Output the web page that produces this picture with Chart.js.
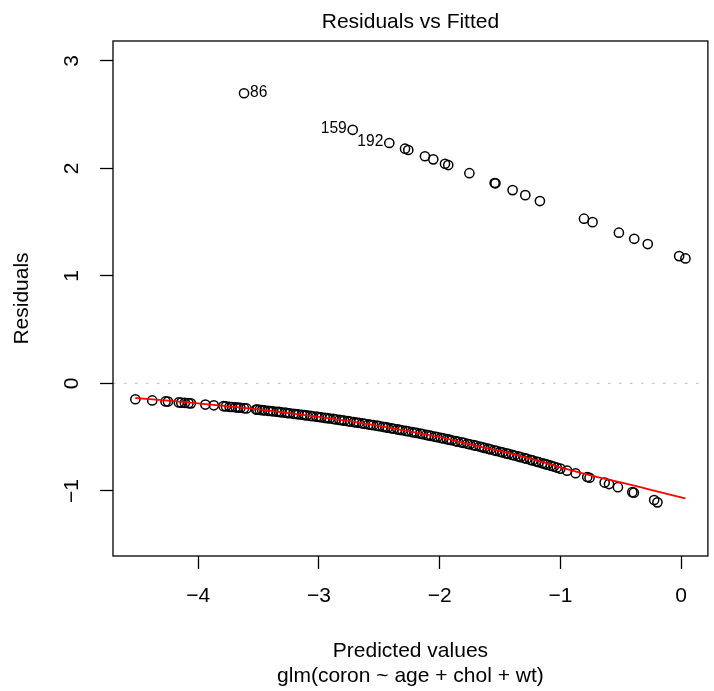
<!DOCTYPE html>
<html>
<head>
<meta charset="utf-8">
<script src="https://cdn.jsdelivr.net/npm/chart.js@4"></script>
<style>
  body { margin: 0; background: #fff; }
  canvas { display: block; }
</style>
</head>
<body>
<canvas id="chart" width="714" height="691"></canvas>
<script>
// fitted values (linear predictor) and deviance residuals
// first the y = 1 band (top), then the y = 0 band (bottom)
const fitted = [
  -3.62, -2.72, -2.417, -2.287, -2.26, -2.122, -2.053, -1.956, -1.929, -1.754,
  -1.545, -1.538, -1.396, -1.291, -1.17, -0.805, -0.734, -0.516, -0.389, -0.277,
  -0.017, 0.035,
  -4.52, -4.38, -4.27, -4.25, -4.16, -4.14, -4.11, -4.08, -4.06, -3.94,
  -3.87, -3.79, -3.77, -3.74, -3.72, -3.69, -3.67, -3.65, -3.62, -3.6,
  -3.52, -3.51, -3.49, -3.47, -3.45, -3.42, -3.4, -3.38, -3.35, -3.33,
  -3.31, -3.28, -3.26, -3.24, -3.21, -3.19, -3.17, -3.14, -3.12, -3.1,
  -3.07, -3.05, -3.02, -3.0, -2.98, -2.95, -2.93, -2.91, -2.88, -2.86,
  -2.83, -2.81, -2.79, -2.76, -2.74, -2.71, -2.69, -2.67, -2.64, -2.62,
  -2.59, -2.57, -2.55, -2.52, -2.5, -2.47, -2.45, -2.43, -2.4, -2.38,
  -2.35, -2.33, -2.31, -2.28, -2.26, -2.23, -2.21, -2.19, -2.16, -2.14,
  -2.11, -2.09, -2.07, -2.04, -2.02, -1.99, -1.97, -1.94, -1.92, -1.9,
  -1.87, -1.85, -1.82, -1.8, -1.77, -1.75, -1.72, -1.7, -1.67, -1.65,
  -1.63, -1.6, -1.58, -1.55, -1.53, -1.5, -1.48, -1.45, -1.43, -1.4,
  -1.38, -1.35, -1.33, -1.3, -1.28, -1.25, -1.23, -1.2, -1.18, -1.15,
  -1.13, -1.11, -1.08, -1.055, -1.03, -1.0,
  -0.945, -0.875, -0.778, -0.759, -0.634, -0.598, -0.524, -0.405, -0.392, -0.224,
  -0.197
];
const resid = [
  2.70, 2.36, 2.237, 2.184, 2.172, 2.114, 2.085, 2.044, 2.032, 1.956,
  1.865, 1.862, 1.799, 1.752, 1.697, 1.533, 1.501, 1.403, 1.346, 1.297,
  1.185, 1.163,
  -0.147, -0.158, -0.167, -0.168, -0.176, -0.178, -0.18, -0.183, -0.185, -0.196,
  -0.203, -0.211, -0.213, -0.217, -0.219, -0.222, -0.224, -0.226, -0.23, -0.232,
  -0.242, -0.243, -0.245, -0.248, -0.25, -0.254, -0.256, -0.259, -0.263, -0.265,
  -0.268, -0.272, -0.275, -0.277, -0.282, -0.284, -0.287, -0.291, -0.294, -0.297,
  -0.302, -0.305, -0.309, -0.312, -0.315, -0.32, -0.323, -0.326, -0.33, -0.334,
  -0.339, -0.342, -0.346, -0.351, -0.354, -0.359, -0.363, -0.366, -0.372, -0.375,
  -0.381, -0.384, -0.388, -0.393, -0.397, -0.403, -0.407, -0.411, -0.417, -0.421,
  -0.427, -0.431, -0.435, -0.441, -0.445, -0.452, -0.456, -0.46, -0.467, -0.472,
  -0.479, -0.483, -0.488, -0.495, -0.499, -0.506, -0.511, -0.518, -0.523, -0.528,
  -0.536, -0.541, -0.548, -0.553, -0.561, -0.566, -0.574, -0.579, -0.587, -0.593,
  -0.599, -0.607, -0.613, -0.621, -0.627, -0.635, -0.641, -0.65, -0.655, -0.664,
  -0.67, -0.679, -0.685, -0.694, -0.7, -0.71, -0.716, -0.726, -0.732, -0.742,
  -0.748, -0.755, -0.765, -0.773, -0.782, -0.792,
  -0.811, -0.835, -0.87, -0.877, -0.922, -0.936, -0.965, -1.011, -1.016, -1.084,
  -1.106
];

// observation numbers printed next to the three largest residuals
const labelText = ['86', '159', '192'];
const labelIndex = [0, 1, 2];
const labelSide = ['right', 'left', 'left'];

// red lowess smooth
const smoothX = [-4.52, -4.25, -4.0, -3.5, -3.25, -3.0, -2.75, -2.5, -2.25, -2.0,
  -1.75, -1.5, -1.25, -1.0, -0.75, -0.5, -0.25, 0.035];
const smoothY = [-0.135, -0.16, -0.185, -0.24, -0.275, -0.31, -0.35, -0.395, -0.445, -0.5,
  -0.565, -0.63, -0.7, -0.78, -0.855, -0.92, -0.99, -1.07];

const xTicks = [-4, -3, -2, -1, 0];
const yTicks = [-1, 0, 1, 2, 3];
const xRange = [-4.705, 0.221];
const yRange = [-1.605, 3.186];

const FONT = '"Liberation Sans", Arial, Helvetica, sans-serif';
const fmt = v => (v < 0 ? '\u2212' + Math.abs(v) : String(v));

const frameAndLabels = {
  id: 'frameAndLabels',
  afterDraw(chart) {
    const { ctx, chartArea: a, scales: { x, y } } = chart;
    ctx.save();
    ctx.strokeStyle = '#000';
    ctx.lineWidth = 1.3;
    ctx.strokeRect(a.left, a.top, a.right - a.left, a.bottom - a.top);

    ctx.font = '15.6px ' + FONT;
    ctx.fillStyle = '#000';
    ctx.textBaseline = 'middle';
    labelIndex.forEach((idx, i) => {
      const px = x.getPixelForValue(fitted[idx]);
      const py = y.getPixelForValue(resid[idx]);
      if (labelSide[i] === 'right') {
        ctx.textAlign = 'left';
        ctx.fillText(labelText[i], px + 6, py - 1);
      } else {
        ctx.textAlign = 'right';
        ctx.fillText(labelText[i], px - 6, py - 1);
      }
    });
    ctx.restore();
  }
};

const ctx = document.querySelector('#chart').getContext('2d');

new Chart(ctx, {
  type: 'scatter',
  data: {
    datasets: [
      {
        label: 'lowess',
        data: smoothX.map((v, i) => ({ x: v, y: smoothY[i] })),
        showLine: true,
        borderColor: '#ff0000',
        borderWidth: 1.8,
        pointRadius: 0,
        cubicInterpolationMode: 'monotone'
      },
      {
        label: 'zero',
        data: [{ x: xRange[0], y: 0 }, { x: xRange[1], y: 0 }],
        showLine: true,
        borderColor: '#c4c4c4',
        borderWidth: 1.3,
        borderDash: [2.5, 8.5],
        pointRadius: 0
      },
      {
        label: 'residuals',
        data: fitted.map((v, i) => ({ x: v, y: resid[i] })),
        pointStyle: 'circle',
        pointRadius: 4.6,
        borderWidth: 1.5,
        borderColor: '#000',
        backgroundColor: 'rgba(0,0,0,0)'
      }
    ]
  },
  options: {
    responsive: false,
    animation: false,
    devicePixelRatio: 1,
    layout: { padding: { top: 0, right: 6, bottom: 0, left: 0 } },
    plugins: {
      legend: { display: false },
      tooltip: { enabled: false },
      title: {
        display: true,
        text: 'Residuals vs Fitted',
        color: '#000',
        fullSize: false,
        font: { family: FONT, size: 21, weight: 'normal' },
        padding: { top: 9.4, bottom: 6.4 }
      }
    },
    scales: {
      x: {
        type: 'linear',
        min: xRange[0],
        max: xRange[1],
        afterBuildTicks: s => { s.ticks = xTicks.map(v => ({ value: v })); },
        afterFit: s => { s.height = 135; },
        border: { display: false },
        grid: {
          display: true,
          drawOnChartArea: false,
          drawTicks: true,
          tickLength: 13,
          tickColor: '#000',
          tickWidth: 1.3
        },
        ticks: {
          color: '#000',
          font: { family: FONT, size: 21 },
          padding: 15,
          minRotation: 0,
          maxRotation: 0,
          callback: fmt
        },
        title: {
          display: true,
          text: ['Predicted values', 'glm(coron ~ age + chol + wt)'],
          color: '#000',
          font: { family: FONT, size: 21 },
          padding: { top: 0, bottom: 2.4 }
        }
      },
      y: {
        type: 'linear',
        min: yRange[0],
        max: yRange[1],
        afterBuildTicks: s => { s.ticks = yTicks.map(v => ({ value: v })); },
        afterFit: s => { s.width = 113; },
        border: { display: false },
        grid: {
          display: true,
          drawOnChartArea: false,
          drawTicks: true,
          tickLength: 13,
          tickColor: '#000',
          tickWidth: 1.3
        },
        ticks: {
          color: '#000',
          font: { family: FONT, size: 21 },
          padding: 16,
          minRotation: 90,
          maxRotation: 90,
          crossAlign: 'center',
          callback: fmt
        },
        title: {
          display: true,
          text: 'Residuals',
          color: '#000',
          font: { family: FONT, size: 21 },
          padding: { top: 9.4, bottom: 0 }
        }
      }
    }
  },
  plugins: [frameAndLabels]
});
</script>
</body>
</html>
